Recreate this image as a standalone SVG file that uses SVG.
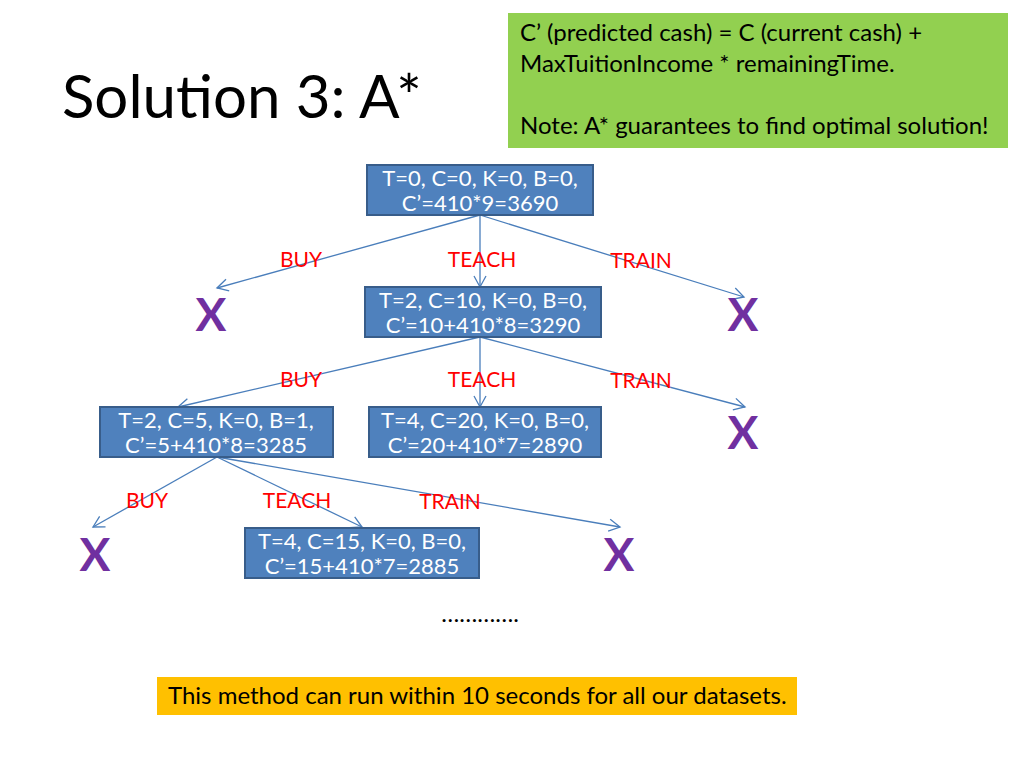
<svg xmlns="http://www.w3.org/2000/svg" width="1024" height="768" viewBox="0 0 1024 768">
<defs>
<marker id="arr" markerWidth="14" markerHeight="14" refX="12" refY="7" orient="auto" markerUnits="userSpaceOnUse">
<path d="M1,1 L12,7 L1,13" fill="none" stroke="#4a7ebb" stroke-width="1.3"/>
</marker>
<style>
text{font-family:Lato,"Open Sans","Liberation Sans",sans-serif}
.node rect{fill:#4f81bd;stroke:#385d8a;stroke-width:2}
.node text{fill:#fff;font-size:22px;text-anchor:middle}
.lbl{fill:#ff0000;font-size:21px;text-anchor:middle}
.x{fill:#7030a0;font-size:46px;font-weight:bold;text-anchor:middle}
.edge{stroke:#4a7ebb;stroke-width:1.3;fill:none;marker-end:url(#arr)}
.body{fill:#000;font-size:24px}
</style>
</defs>
<rect width="1024" height="768" fill="#fff"/>
<text x="62" y="118" style="font-size:60px" fill="#000">Solution 3: A*</text>
<g id="note">
<rect x="508" y="13" width="500" height="135" fill="#92d050"/>
<text class="body" x="520" y="41">C’ (predicted cash) = C (current cash) +</text>
<text class="body" x="520" y="72">MaxTuitionIncome * remainingTime.</text>
<text class="body" x="520" y="134">Note: A* guarantees to find optimal solution!</text>
</g>
<g id="connectors">
<line class="edge" x1="480" y1="215" x2="217" y2="288"/>
<line class="edge" x1="480" y1="215" x2="480" y2="287"/>
<line class="edge" x1="480" y1="215" x2="744" y2="297"/>
<line class="edge" x1="480" y1="337" x2="178" y2="407"/>
<line class="edge" x1="480" y1="337" x2="480" y2="407"/>
<line class="edge" x1="480" y1="337" x2="745" y2="407"/>
<line class="edge" x1="217" y1="457" x2="93" y2="527"/>
<line class="edge" x1="217" y1="457" x2="362" y2="527"/>
<line class="edge" x1="217" y1="457" x2="620" y2="527"/>
</g>
<g id="labels">
<text class="lbl" x="301" y="267">BUY</text>
<text class="lbl" x="482" y="267">TEACH</text>
<text class="lbl" x="641" y="268">TRAIN</text>
<text class="lbl" x="301" y="387">BUY</text>
<text class="lbl" x="482" y="387">TEACH</text>
<text class="lbl" x="641" y="388">TRAIN</text>
<text class="lbl" x="147" y="508">BUY</text>
<text class="lbl" x="297" y="508">TEACH</text>
<text class="lbl" x="450" y="509">TRAIN</text>
</g>
<g id="n1" class="node">
<rect x="367" y="165" width="226" height="50"/>
<text x="480" y="186">T=0, C=0, K=0, B=0,</text>
<text x="480" y="211">C’=410*9=3690</text>
</g>
<g id="n2" class="node">
<rect x="365" y="287" width="236" height="50"/>
<text x="483" y="308">T=2, C=10, K=0, B=0,</text>
<text x="483" y="333">C’=10+410*8=3290</text>
</g>
<g id="n3" class="node">
<rect x="100" y="407" width="233" height="50"/>
<text x="216" y="428">T=2, C=5, K=0, B=1,</text>
<text x="216" y="453">C’=5+410*8=3285</text>
</g>
<g id="n4" class="node">
<rect x="369" y="407" width="232" height="50"/>
<text x="485" y="428">T=4, C=20, K=0, B=0,</text>
<text x="485" y="453">C’=20+410*7=2890</text>
</g>
<g id="n5" class="node">
<rect x="245" y="528" width="234" height="50"/>
<text x="362" y="549">T=4, C=15, K=0, B=0,</text>
<text x="362" y="574">C’=15+410*7=2885</text>
</g>
<g id="x1"><text class="x" x="211" y="331">X</text></g>
<g id="x2"><text class="x" x="743" y="331">X</text></g>
<g id="x3"><text class="x" x="743" y="449">X</text></g>
<g id="x4"><text class="x" x="95" y="571">X</text></g>
<g id="x5"><text class="x" x="619" y="571">X</text></g>
<text class="body" x="480" y="622" text-anchor="middle">………….</text>
<g id="summary">
<rect x="157" y="677" width="640" height="38" fill="#ffc000"/>
<text class="body" x="168" y="704">This method can run within 10 seconds for all our datasets.</text>
</g>
</svg>
